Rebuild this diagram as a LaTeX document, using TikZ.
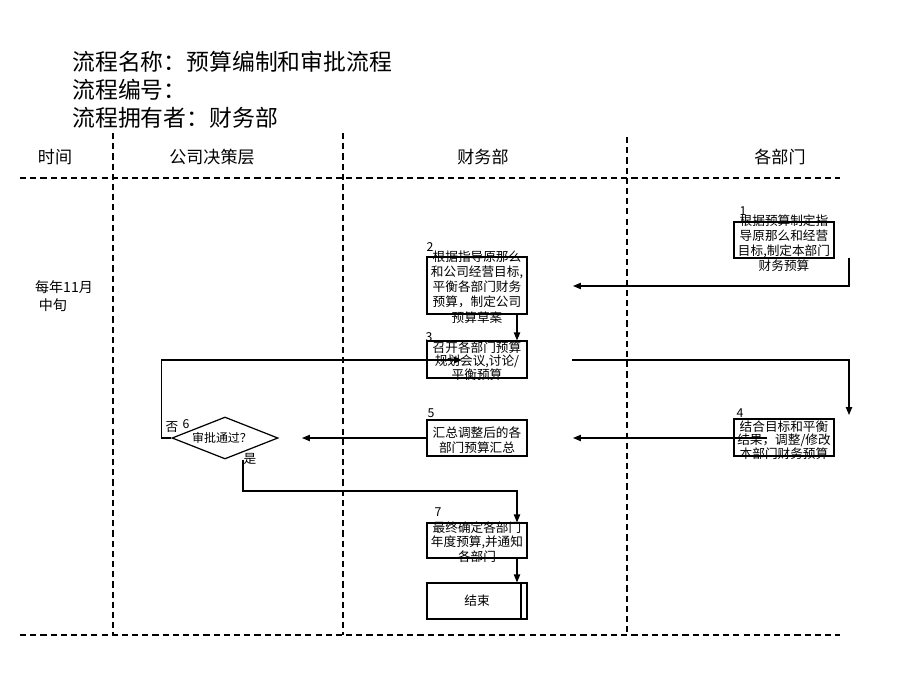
\documentclass[tikz,border=0pt]{standalone}
\usepackage{fontspec}
\setmainfont{Noto Sans CJK SC}
\usetikzlibrary{arrows.meta,shapes.geometric}

\tikzset{
  lane/.style={line width=0.6pt,dash pattern=on 3.5pt off 2.3pt},
  stepbox/.style={draw,line width=0.7pt,minimum width=2cm,inner sep=0pt},
  steptext/.style={font=\fontsize{7.2}{8.6}\selectfont,align=center,inner sep=0pt},
  stepno/.style={font=\fontsize{7}{8}\selectfont,inner sep=0pt},
  heading/.style={font=\fontsize{9.7}{11}\selectfont,inner sep=0pt},
  flow/.style={line width=0.6pt,-{Triangle[length=4.5pt,width=3.6pt]}},
  link/.style={line width=0.6pt},
}

\begin{document}
\begin{tikzpicture}[x=0.02cm,y=-0.02cm]
    \useasboundingbox (0,0) rectangle (920,690);

    % Titel
    \node[anchor=west,font=\fontsize{13}{15}\selectfont,inner sep=0pt] (titlename) at (72,62) {流程名称：预算编制和审批流程};
    \node[anchor=west,font=\fontsize{13}{15}\selectfont,inner sep=0pt] (titleno) at (72,90) {流程编号：};
    \node[anchor=west,font=\fontsize{13}{15}\selectfont,inner sep=0pt] (titleowner) at (72,118) {流程拥有者：财务部};

    % Lignes de separation
    \draw[lane] (20,178) -- (840,178);
    \draw[lane] (20,635) -- (840,635);
    \draw[lane] (113,133) -- (113,635);
    \draw[lane] (343,133) -- (343,635);
    \draw[lane] (627,137) -- (627,635);

    % En-tetes
    \node[heading] (htime) at (55,157) {时间};
    \node[heading] (hboard) at (212,157) {公司决策层};
    \node[heading] (hfin) at (483,157) {财务部};
    \node[heading] (hdept) at (780,157) {各部门};
    \node[font=\fontsize{8}{9}\selectfont,inner sep=0pt] (when1) at (64,287) {每年11月};
    \node[font=\fontsize{8}{9}\selectfont,inner sep=0pt] (when2) at (53,305) {中旬};

    % Etapes
    \node[stepbox,minimum height=0.72cm] (b1) at (784,240) {};
    \node[steptext] (t1) at (784,243) {根据预算制定指\\导原那么和经营\\目标,制定本部门\\财务预算};
    \node[stepno] (n1) at (743,211) {1};

    \node[stepbox,minimum height=1.14cm] (b2) at (477,285.5) {};
    \node[steptext] (t2) at (477,287) {根据指导原那么\\和公司经营目标,\\平衡各部门财务\\预算，制定公司\\预算草案};
    \node[stepno] (n2) at (430,247) {2};

    \node[stepbox,minimum height=0.74cm] (b3) at (477,359.5) {};
    \node[steptext,font=\fontsize{7.2}{7.6}\selectfont] (t3) at (477,361) {召开各部门预算\\规划会议,讨论/\\平衡预算};
    \node[stepno] (n3) at (429,337) {3};

    \node[stepbox,minimum height=0.74cm] (b4) at (784,437.5) {};
    \node[steptext,font=\fontsize{7.2}{7.6}\selectfont] (t4) at (784,440) {结合目标和平衡\\结果，调整/修改\\本部门财务预算};
    \node[stepno] (n4) at (740,413) {4};

    \node[stepbox,minimum height=0.72cm] (b5) at (477,438) {};
    \node[steptext] (t5) at (477,440) {汇总调整后的各\\部门预算汇总};
    \node[stepno] (n5) at (431,413) {5};

    \node[draw,diamond,line width=0.7pt,minimum width=2.12cm,minimum height=0.84cm,inner sep=0pt] (d6) at (225,438) {};
    \node[font=\fontsize{6.8}{8}\selectfont,inner sep=0pt] (t6) at (222,438) {审批通过？};
    \node[stepno] (n6) at (186,424) {6};
    \node[steptext] (no6) at (172,427) {否};
    \node[steptext] (yes6) at (250,459) {是};

    \node[stepbox,minimum height=0.7cm] (b7) at (477,540.5) {};
    \node[steptext,font=\fontsize{7.2}{8.2}\selectfont] (t7) at (477,542) {最终确定各部门\\年度预算,并通知\\各部门};
    \node[stepno] (n7) at (438,512) {7};

    \node[stepbox,minimum height=0.72cm,font=\fontsize{7.2}{8.6}\selectfont] (fin) at (477,601) {结束};
    \draw[link] (521,583) -- (521,619);

    % Points de passage
    \coordinate (rail) at (517,0);
    \coordinate (c1) at (849,258);
    \coordinate (c2in) at (573,286);
    \coordinate (c3out) at (572,360);
    \coordinate (c4in) at (849,415);
    \coordinate (c4out) at (767,438);
    \coordinate (c5in) at (573,438);
    \coordinate (c6in) at (302,438);
    \coordinate (c6yes) at (243,460);
    \coordinate (c3back) at (462,360);

    % Fleches
    \draw[flow] (c1) |- (c2in);
    \draw[flow] (b2.south -| rail) -- (b3.north -| rail);
    \draw[flow] (c3out) -| (c4in);
    \draw[flow] (c4out) -- (c5in);
    \draw[flow] (b5.west) -- (c6in);
    \draw[flow] (d6.west) -- ++(-10,0) |- (c3back);
    \draw[flow] (c6yes) |- (517,491) -- (b7.north -| rail);
    \draw[flow] (b7.south -| rail) -- (fin.north -| rail);

\end{tikzpicture}
\end{document}
